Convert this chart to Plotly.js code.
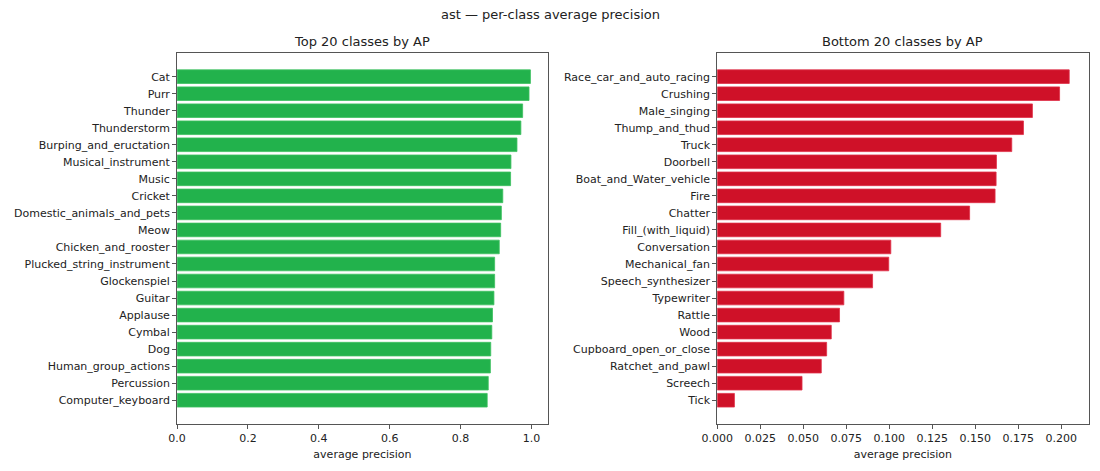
<!DOCTYPE html>
<html>
<head>
<meta charset="utf-8">
<script src="https://cdn.plot.ly/plotly-3.0.1.min.js"></script>
<style>html,body{margin:0;padding:0;background:#fff;}#chart{width:1100px;height:471px;}</style>
</head>
<body>
<div id="chart"></div>
<script>
const topClasses = ["Cat","Purr","Thunder","Thunderstorm","Burping_and_eructation","Musical_instrument","Music","Cricket","Domestic_animals_and_pets","Meow","Chicken_and_rooster","Plucked_string_instrument","Glockenspiel","Guitar","Applause","Cymbal","Dog","Human_group_actions","Percussion","Computer_keyboard"];
const topAP = [0.997,0.993,0.975,0.970,0.959,0.942,0.941,0.919,0.915,0.913,0.909,0.896,0.896,0.894,0.890,0.888,0.885,0.884,0.878,0.875];
const bottomClasses = ["Race_car_and_auto_racing","Crushing","Male_singing","Thump_and_thud","Truck","Doorbell","Boat_and_Water_vehicle","Fire","Chatter","Fill_(with_liquid)","Conversation","Mechanical_fan","Speech_synthesizer","Typewriter","Rattle","Wood","Cupboard_open_or_close","Ratchet_and_pawl","Screech","Tick"];
const bottomAP = [0.2046,0.1990,0.1832,0.1780,0.1712,0.1623,0.1621,0.1615,0.1467,0.1299,0.1009,0.0997,0.0903,0.0736,0.0711,0.0663,0.0636,0.0605,0.0493,0.0100];
const leftTicks = [0,0.2,0.4,0.6,0.8,1.0];
const rightTicks = [0,0.025,0.05,0.075,0.1,0.125,0.15,0.175,0.2];

const font = {family:"DejaVu Sans", size:11, color:"#222"};
const idx = a => a.map((_,i)=>i);
const n = topClasses.length;
const yr = [n - 1 + 0.4 + 0.99, -0.4 - 0.99];

const traces = [
  {type:"bar", orientation:"h", x:topAP, y:idx(topClasses), width:0.8,
   marker:{color:"#22b24c", line:{color:"#3cc060", width:0.8}}, xaxis:"x", yaxis:"y", hoverinfo:"x+text", text:topClasses, textposition:"none"},
  {type:"bar", orientation:"h", x:bottomAP, y:idx(bottomClasses), width:0.8,
   marker:{color:"#cf1128", line:{color:"#e03048", width:0.8}}, xaxis:"x2", yaxis:"y2", hoverinfo:"x+text", text:bottomClasses, textposition:"none"}
];

const axBase = {showgrid:false, zeroline:false, showline:true, mirror:true, linecolor:"#555", linewidth:1,
  ticks:"outside", ticklen:4, tickcolor:"#555", tickfont:font};

const layout = {
  width:1100, height:471, margin:{l:0,r:0,t:0,b:0},
  paper_bgcolor:"#fff", plot_bgcolor:"#fff", showlegend:false, font:font,
  xaxis: Object.assign({}, axBase, {domain:[0.161,0.498], range:[0,1.046], tickvals:leftTicks, ticktext:leftTicks.map(v=>v.toFixed(1)),
     title:{text:"average precision", font:font, standoff:6}, anchor:"y"}),
  yaxis: Object.assign({}, axBase, {domain:[0.100,0.8875], range:yr, tickvals:idx(topClasses), ticktext:topClasses, anchor:"x"}),
  xaxis2: Object.assign({}, axBase, {domain:[0.652,0.9897], range:[0,0.2159], tickvals:rightTicks, ticktext:rightTicks.map(v=>v.toFixed(3)),
     title:{text:"average precision", font:font, standoff:6}, anchor:"y2"}),
  yaxis2: Object.assign({}, axBase, {domain:[0.100,0.8875], range:yr, tickvals:idx(bottomClasses), ticktext:bottomClasses, anchor:"x2"}),
  annotations:[
    {text:"ast — per-class average precision", x:0.5, y:1-15/471, xref:"paper", yref:"paper", showarrow:false, font:{family:"DejaVu Sans", size:13, color:"#222"}, xanchor:"center", yanchor:"middle"},
    {text:"Top 20 classes by AP", x:(0.161+0.498)/2, y:1-42/471, xref:"paper", yref:"paper", showarrow:false, font:{family:"DejaVu Sans", size:13, color:"#222"}, xanchor:"center", yanchor:"middle"},
    {text:"Bottom 20 classes by AP", x:(0.652+0.9897)/2, y:1-42/471, xref:"paper", yref:"paper", showarrow:false, font:{family:"DejaVu Sans", size:13, color:"#222"}, xanchor:"center", yanchor:"middle"}
  ]
};
Plotly.newPlot("chart", traces, layout, {displayModeBar:false, staticPlot:true});
</script>
</body>
</html>
